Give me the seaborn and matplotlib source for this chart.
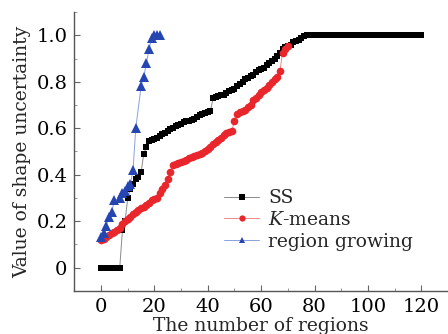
import numpy as np
import pandas as pd
import seaborn as sns
import matplotlib
matplotlib.use("Agg")
import matplotlib.pyplot as plt
from matplotlib.ticker import MultipleLocator

# ---------------- data ----------------
ss_x = list(range(0, 121))
ss_y = [0, 0, 0, 0, 0, 0, 0, 0, 0.16, 0.20,
        0.30, 0.34, 0.36, 0.38, 0.39, 0.41, 0.49, 0.52, 0.545, 0.55,
        0.555, 0.56, 0.567, 0.575, 0.58, 0.59, 0.595, 0.60, 0.61, 0.615,
        0.62, 0.625, 0.63, 0.63, 0.635, 0.64, 0.65, 0.655, 0.66, 0.665,
        0.67, 0.675, 0.73, 0.735, 0.74, 0.745, 0.745, 0.75, 0.76, 0.765,
        0.77, 0.78, 0.79, 0.80, 0.81, 0.815, 0.825, 0.83, 0.84, 0.85,
        0.855, 0.86, 0.87, 0.88, 0.89, 0.90, 0.91, 0.925, 0.94, 0.95,
        0.955, 0.96, 0.97, 0.975, 0.98, 0.99, 0.995, 1.0, 1.0, 1.0,
        1.0, 1.0, 1.0, 1.0, 1.0, 1.0, 1.0, 1.0, 1.0, 1.0,
        1.0, 1.0, 1.0, 1.0, 1.0, 1.0, 1.0, 1.0, 1.0, 1.0,
        1.0, 1.0, 1.0, 1.0, 1.0, 1.0, 1.0, 1.0, 1.0, 1.0,
        1.0, 1.0, 1.0, 1.0, 1.0, 1.0, 1.0, 1.0, 1.0, 1.0,
        1.0]

km_x = list(range(0, 71))
km_y = [0.12, 0.125, 0.13, 0.14, 0.15, 0.155, 0.16, 0.17, 0.19, 0.20,
        0.21, 0.22, 0.23, 0.24, 0.25, 0.255, 0.26, 0.27, 0.28, 0.29,
        0.295, 0.30, 0.32, 0.34, 0.355, 0.38, 0.41, 0.44, 0.445, 0.45,
        0.455, 0.46, 0.465, 0.47, 0.475, 0.48, 0.485, 0.49, 0.495, 0.50,
        0.51, 0.52, 0.53, 0.54, 0.55, 0.56, 0.57, 0.58, 0.585, 0.59,
        0.63, 0.66, 0.67, 0.675, 0.68, 0.69, 0.70, 0.72, 0.73, 0.745,
        0.755, 0.765, 0.775, 0.785, 0.80, 0.81, 0.82, 0.845, 0.925, 0.94,
        0.955]

rg_x = [0, 1, 2, 3, 4, 5, 7, 8, 9, 10, 11, 12, 13, 15, 16, 17, 18, 19, 20, 21, 22]
rg_y = [0.13, 0.15, 0.18, 0.22, 0.24, 0.29, 0.30, 0.32, 0.33, 0.35, 0.36, 0.42,
        0.60, 0.78, 0.82, 0.88, 0.94, 0.99, 1.0, 1.0, 1.0]

labels = ["SS", "$K$-means", "region growing"]
x_ticks = [0, 20, 40, 60, 80, 100, 120]
y_ticks = [0, 0.2, 0.4, 0.6, 0.8, 1.0]
y_ticklabels = ["0", "0.2", "0.4", "0.6", "0.8", "1.0"]

# ---------------- style ----------------
sns.set_theme(style="ticks")
plt.rcParams["font.family"] = ["DejaVu Serif"]
plt.rcParams["mathtext.fontset"] = "custom"
plt.rcParams["mathtext.it"] = "DejaVu Serif:italic"
plt.rcParams["mathtext.rm"] = "DejaVu Serif"

fig = plt.figure(figsize=(4.48, 3.34), dpi=100)
ax = fig.add_axes([0.166, 0.129, 0.834, 0.835])

common = dict(ax=ax, linewidth=0.7, markeredgewidth=0, legend=False)
sns.lineplot(x=ss_x, y=ss_y, color="#8a8a8a", marker="s", markersize=5,
             markerfacecolor="black", markeredgecolor="black", **common)
sns.lineplot(x=km_x, y=km_y, color="#f08a8a", marker="o", markersize=5.5,
             markerfacecolor="#e8262b", markeredgecolor="#e8262b", **common)
sns.lineplot(x=rg_x, y=rg_y, color="#8aa0e0", marker="^", markersize=6.5,
             markerfacecolor="#2545b0", markeredgecolor="#2545b0", **common)

lines = ax.get_lines()
leg = ax.legend(lines, labels, loc="upper left", bbox_to_anchor=(0.40, 0.365),
                frameon=False, fontsize=13.5, handlelength=1.9, handletextpad=0.45,
                labelspacing=0.2, borderaxespad=0, borderpad=0)
for h in leg.legend_handles:
    h.set_markersize(4.5)

ax.set_xlim(-10, 130)
ax.set_ylim(-0.1, 1.1)
ax.set_xticks(x_ticks)
ax.set_xticklabels([str(t) for t in x_ticks])
ax.set_yticks(y_ticks)
ax.set_yticklabels(y_ticklabels)
ax.xaxis.set_minor_locator(MultipleLocator(10))
ax.yaxis.set_minor_locator(MultipleLocator(0.1))
ax.tick_params(which="major", direction="in", length=4, width=0.8,
               color="#666666", labelsize=14, pad=5, labelcolor="black")
ax.tick_params(which="minor", direction="in", length=2, width=0.6, color="#888888")
for s in ["top", "right"]:
    ax.spines[s].set_visible(False)
for s in ["left", "bottom"]:
    ax.spines[s].set_color("#555555")
    ax.spines[s].set_linewidth(1.0)

ax.set_xlabel("The number of regions", fontsize=13.5, labelpad=1)
ax.set_ylabel("Value of shape uncertainty", fontsize=13.5, labelpad=4)

fig.savefig("out.png", dpi=100)
